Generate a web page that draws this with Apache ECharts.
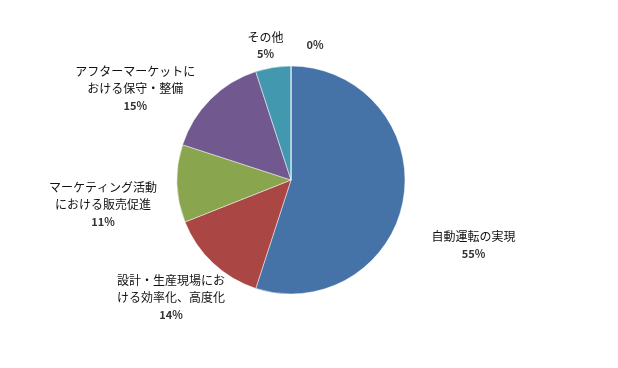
<!DOCTYPE html>
<html>
<head>
<meta charset="utf-8">
<script src="https://cdn.jsdelivr.net/npm/echarts@6/dist/echarts.min.js"></script>
<style>html,body{margin:0;padding:0;background:#fff}#c{width:618px;height:368px}</style>
</head>
<body>
<div id="c"></div>
<script>
const categories = ['自動運転の実現', '設計・生産現場にお\nける効率化、高度化', 'マーケティング活動\nにおける販売促進', 'アフターマーケットに\nおける保守・整備', 'その他', ''];
const values = [55, 14, 11, 15, 5, 0];
const colors = ['#4572A7', '#AA4643', '#89A54E', '#71588F', '#4198AF', '#DB843D'];

const labelOffsets = [[55, 46], [-30, 27], [-59, 21], [-63, -4], [-1, -12], [29, -11]];

const chart = echarts.init(document.getElementById('c'));
chart.setOption({
  animation: false,
  series: [{
    type: 'pie',
    center: [291, 180],
    radius: 114,
    startAngle: 90,
    clockwise: true,
    avoidLabelOverlap: false,
    data: categories.map((n, i) => ({ name: n, value: values[i], itemStyle: { color: colors[i] } })),
    itemStyle: { borderColor: 'rgba(255,255,255,0.6)', borderWidth: 0.8 },
    label: {
      show: true,
      position: 'outside',
      alignTo: 'none',
      fontFamily: '"Noto Sans CJK JP"',
      formatter: p => (p.name ? '{n|' + p.name.split('\n').join('}\n{n|') + '}\n' : '') + '{p|' + p.value + '%}',
      rich: {
        n: { fontSize: 12, color: '#111', lineHeight: 17, fontFamily: '"Noto Sans CJK JP"' },
        p: { fontSize: 11, color: '#333', lineHeight: 17, fontFamily: '"Noto Sans CJK JP"', fontWeight: 'bold' }
      }
    },
    labelLine: { show: false, length: 10, length2: 0 },
    labelLayout: p => ({ align: 'center', verticalAlign: 'middle', dx: labelOffsets[p.dataIndex][0], dy: labelOffsets[p.dataIndex][1] }),
    emphasis: { disabled: true }
  }]
});
</script>
</body>
</html>
